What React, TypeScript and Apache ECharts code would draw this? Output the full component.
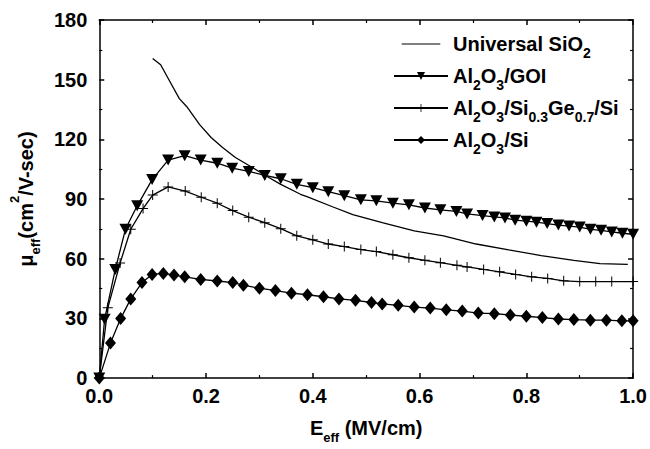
import React, { useEffect, useRef } from "react";
import * as echarts from "echarts";

const FONT = '"Liberation Sans", Arial, Helvetica, sans-serif';

// Universal SiO2 (line only)
const sio2X = [0.10, 0.115, 0.133, 0.15, 0.164, 0.188, 0.21, 0.231, 0.255, 0.286, 0.316, 0.34, 0.377, 0.389, 0.438, 0.475, 0.53, 0.59, 0.645, 0.706, 0.767, 0.828, 0.889, 0.938, 0.99];
const sio2Y = [160.7, 157.5, 148.7, 140.5, 136.4, 127.4, 120.8, 115.9, 110.9, 106.0, 101.1, 97.4, 92.4, 91.2, 86.0, 82.2, 78.1, 74.0, 71.5, 67.4, 64.4, 61.6, 59.2, 57.5, 57.2];

// Al2O3/GOI (inverted triangles)
const goiX = [0, 0.010, 0.030, 0.049, 0.071, 0.099, 0.129, 0.160, 0.19, 0.221, 0.249, 0.28, 0.31, 0.34, 0.37, 0.40, 0.429, 0.459, 0.49, 0.519, 0.55, 0.58, 0.61, 0.639, 0.669, 0.689, 0.718, 0.74, 0.76, 0.779, 0.80, 0.819, 0.839, 0.86, 0.88, 0.90, 0.92, 0.94, 0.96, 0.98, 1.0];
const goiY = [0, 29.6, 54.6, 74.8, 86.6, 99.8, 109.6, 111.8, 109.6, 108.0, 105.5, 103.9, 101.9, 100.2, 97.4, 95.7, 93.7, 91.7, 89.6, 89.1, 87.9, 87.1, 85.5, 84.6, 83.8, 82.5, 81.7, 81.0, 80.5, 79.4, 78.9, 78.4, 77.7, 76.9, 76.4, 75.9, 74.8, 74.3, 73.5, 72.8, 72.3];

// Al2O3/Si0.3Ge0.7/Si (plus)
const sigeX = [0, 0.016, 0.039, 0.059, 0.082, 0.10, 0.129, 0.161, 0.191, 0.221, 0.25, 0.28, 0.31, 0.34, 0.37, 0.40, 0.429, 0.459, 0.49, 0.519, 0.55, 0.58, 0.61, 0.639, 0.67, 0.689, 0.72, 0.75, 0.78, 0.81, 0.84, 0.87, 0.90, 0.93, 0.96, 1.0];
const sigeY = [0, 35.3, 57.8, 74.8, 85.2, 92.0, 96.1, 94.0, 90.9, 87.9, 84.2, 80.9, 78.1, 75.1, 71.5, 69.5, 67.4, 66.1, 64.6, 63.6, 62.0, 60.5, 59.2, 58.0, 56.7, 55.9, 54.6, 53.4, 52.1, 50.9, 50.1, 48.9, 48.5, 48.5, 48.5, 48.5];

// Al2O3/Si (diamonds)
const siX = [0, 0.021, 0.040, 0.059, 0.080, 0.099, 0.120, 0.140, 0.160, 0.190, 0.221, 0.250, 0.270, 0.300, 0.330, 0.360, 0.390, 0.420, 0.449, 0.480, 0.510, 0.530, 0.560, 0.590, 0.620, 0.650, 0.680, 0.710, 0.740, 0.770, 0.800, 0.830, 0.860, 0.889, 0.920, 0.950, 0.979, 1.0];
const siY = [0, 17.6, 29.9, 39.8, 48.0, 52.1, 52.6, 51.8, 50.9, 49.6, 48.8, 48.0, 46.7, 45.2, 44.0, 42.7, 41.9, 40.9, 39.8, 39.1, 38.0, 37.3, 36.6, 35.7, 35.2, 34.3, 33.7, 32.7, 32.4, 31.7, 31.1, 30.4, 29.7, 29.4, 29.1, 29.1, 28.8, 28.8];

const xTickValues = [0, 0.2, 0.4, 0.6, 0.8, 1.0];
const xTickLabels = ["0.0", "0.2", "0.4", "0.6", "0.8", "1.0"];
const yTickValues = [0, 30, 60, 90, 120, 150, 180];
const yTickLabels = ["0", "30", "60", "90", "120", "150", "180"];

const seriesNames = ["Universal SiO2", "Al2O3/GOI", "Al2O3/Si0.3Ge0.7/Si", "Al2O3/Si"];
const legendRich: Record<string, string> = {
  "Universal SiO2": "{m|Universal SiO}{s|2}",
  "Al2O3/GOI": "{m|Al}{s|2}{m|O}{s|3}{m|/GOI}",
  "Al2O3/Si0.3Ge0.7/Si": "{m|Al}{s|2}{m|O}{s|3}{m|/Si}{s|0.3}{m|Ge}{s|0.7}{m|/Si}",
  "Al2O3/Si": "{m|Al}{s|2}{m|O}{s|3}{m|/Si}",
};

const pair = (xs: number[], ys: number[]) => xs.map((x, i) => [x, ys[i]]);

const PLUS = "path://M4.5,0h1v10h-1zM0,4.5h10v1h-10z";
const LINE_ICON = "path://M0,0h0.01v0.01h-0.01zM0,6.3h54v1.4h-54zM53.99,13.99h0.01v0.01h-0.01z";

const lookup = (vals: number[], labels: string[]) => (v: number) => {
  const i = vals.findIndex((t) => Math.abs(t - v) < 1e-6);
  return i >= 0 ? labels[i] : "";
};

const axisLineStyle = { color: "#000", width: 1.5 };

export default function App() {
  const ref = useRef<HTMLDivElement>(null);
  useEffect(() => {
    if (!ref.current) return;
    const chart = echarts.init(ref.current, undefined, { renderer: "svg" });
    const baseX = {
      type: "value" as const,
      min: 0,
      max: 1,
      interval: 0.2,
      axisLine: { show: true, onZero: false, lineStyle: axisLineStyle },
      axisTick: { show: true, inside: true, length: 5, lineStyle: axisLineStyle },
      minorTick: { show: true, splitNumber: 2, length: 3, lineStyle: { color: "#000", width: 1.2 } },
      splitLine: { show: false },
    };
    const baseY = {
      type: "value" as const,
      min: 0,
      max: 180,
      interval: 30,
      axisLine: { show: true, onZero: false, lineStyle: axisLineStyle },
      axisTick: { show: true, inside: true, length: 5, lineStyle: axisLineStyle },
      minorTick: { show: true, splitNumber: 2, length: 3, lineStyle: { color: "#000", width: 1.2 } },
      splitLine: { show: false },
    };
    const labelStyle = { fontFamily: FONT, fontWeight: "bold" as const, fontSize: 20, color: "#000" };
    const nameRich = {
      m: { fontFamily: FONT, fontWeight: "bold" as const, fontSize: 20, color: "#000", lineHeight: 20 },
      s: { fontFamily: FONT, fontWeight: "bold" as const, fontSize: 13, color: "#000", lineHeight: 13, padding: [20, 0, 0, 0] },
      p: { fontFamily: FONT, fontWeight: "bold" as const, fontSize: 13, color: "#000", lineHeight: 13, padding: [0, 0, 22, 0] },
    };
    const lineStyle = { color: "#000", width: 1.3 };
    chart.setOption({
      animation: false,
      backgroundColor: "#fff",
      grid: { left: 87, right: 16, top: 20, bottom: 64, containLabel: false },
      xAxis: [
        {
          ...baseX,
          position: "bottom",
          axisLabel: { ...labelStyle, margin: 8, formatter: lookup(xTickValues, xTickLabels) },
          name: "{m|E}{s|eff}{m| (MV/cm)}",
          nameLocation: "middle",
          nameGap: 23,
          nameTextStyle: { rich: nameRich },
        },
        { ...baseX, position: "top", axisLabel: { show: false } },
      ],
      yAxis: [
        {
          ...baseY,
          position: "left",
          axisLabel: { ...labelStyle, margin: 12, formatter: lookup(yTickValues, yTickLabels) },
          name: "{m|μ}{s|eff}{m|(cm}{p|2}{m|/V-sec)}",
          nameLocation: "middle",
          nameGap: 34,
          nameTextStyle: { rich: nameRich },
        },
        { ...baseY, position: "right", axisLabel: { show: false } },
      ],
      legend: {
        orient: "vertical",
        left: 393,
        top: 28,
        padding: 0,
        itemGap: 0,
        itemWidth: 54,
        itemHeight: 10,
        selectedMode: false,
        data: [
          { name: seriesNames[0], icon: LINE_ICON },
          { name: seriesNames[1] },
          { name: seriesNames[2] },
          { name: seriesNames[3] },
        ],
        formatter: (n: string) => legendRich[n] || n,
        textStyle: {
          fontFamily: FONT,
          fontWeight: "bold",
          fontSize: 20,
          color: "#000",
          rich: {
            m: { fontFamily: FONT, fontWeight: "bold", fontSize: 20, color: "#000", lineHeight: 20 },
            s: { fontFamily: FONT, fontWeight: "bold", fontSize: 14, color: "#000", lineHeight: 14, padding: [18, 0, 0, 0] },
          },
        },
      },
      series: [
        {
          name: seriesNames[0],
          type: "line",
          data: pair(sio2X, sio2Y),
          symbol: "none",
          lineStyle,
          itemStyle: { color: "#000" },
          z: 2,
        },
        {
          name: seriesNames[1],
          type: "line",
          data: pair(goiX, goiY),
          symbol: "triangle",
          symbolRotate: 180,
          symbolSize: [12, 11],
          lineStyle,
          itemStyle: { color: "#000" },
          z: 3,
        },
        {
          name: seriesNames[2],
          type: "line",
          data: pair(sigeX, sigeY),
          symbol: PLUS,
          symbolSize: 10,
          lineStyle,
          itemStyle: { color: "#000" },
          z: 3,
        },
        {
          name: seriesNames[3],
          type: "line",
          data: pair(siX, siY),
          symbol: "diamond",
          symbolSize: [11, 13],
          lineStyle,
          itemStyle: { color: "#000" },
          z: 3,
        },
      ],
    });
    return () => chart.dispose();
  }, []);
  return <div ref={ref} style={{ position: "fixed", left: 0, top: 0, width: 650, height: 449 }} />;
}
